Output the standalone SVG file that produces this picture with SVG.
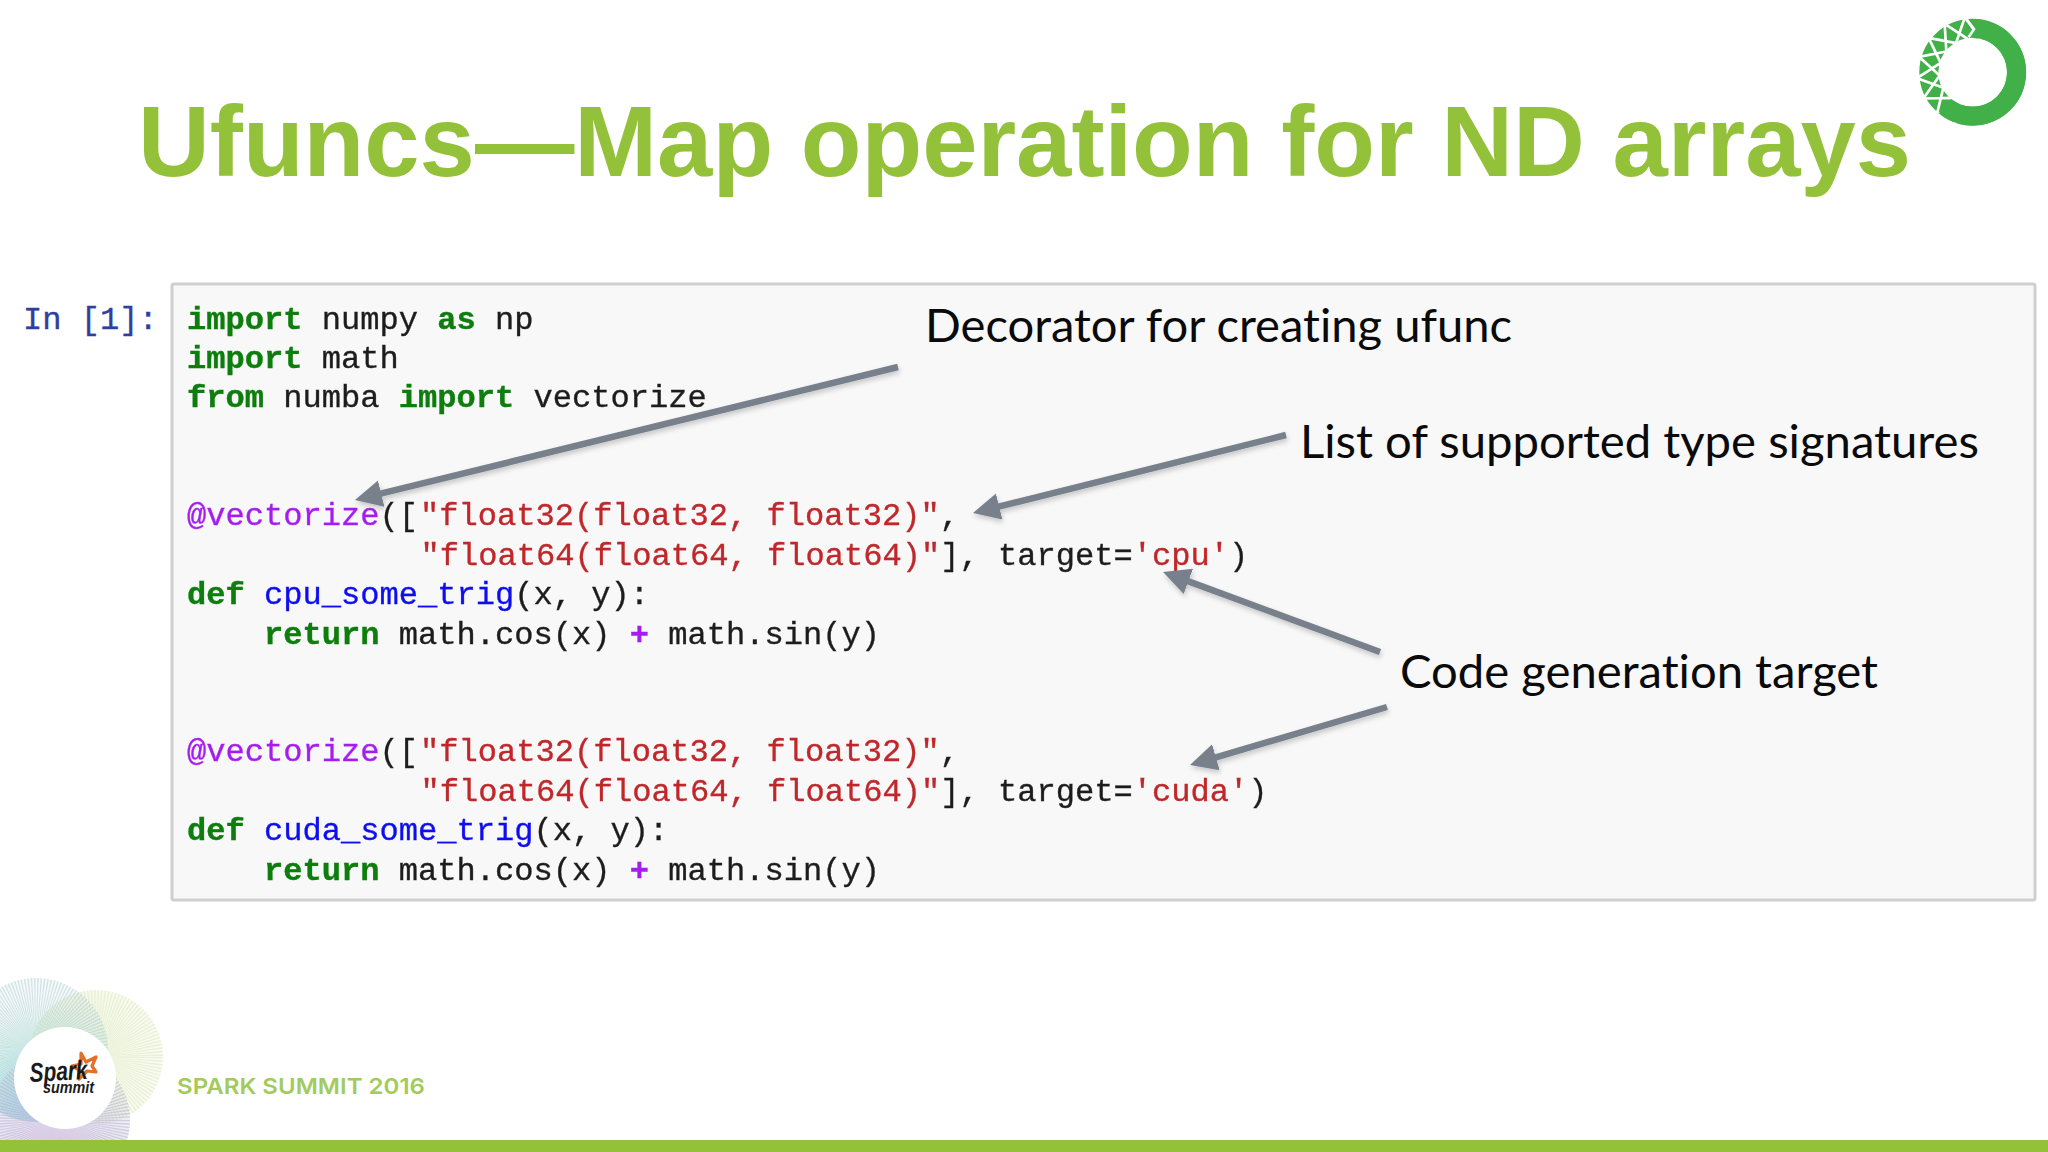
<svg xmlns="http://www.w3.org/2000/svg" width="2048" height="1152" viewBox="0 0 2048 1152">
<style>
.code{font-family:"Liberation Mono",monospace;font-size:32.1px;fill:#1e1e1e;white-space:pre;stroke:#1e1e1e;stroke-width:.35px}
.k{fill:#0a7d0a;stroke:#0a7d0a;font-weight:700}
.s{fill:#c0282a;stroke:#c0282a}
.d{fill:#a61ff0;stroke:#a61ff0}
.f{fill:#1010f0;stroke:#1010f0}
.o{fill:#a61ff0;stroke:#a61ff0;font-weight:700}
.note{font-family:Lato,"Open Sans",sans-serif;font-size:47px;fill:#0a0a0a;font-variant-ligatures:none}
.arrow{fill:none;stroke:#78818b;stroke-width:6.5}
.lat{stroke:#fff;stroke-width:8;fill:none}
</style>
<defs>
<marker id="head" markerUnits="userSpaceOnUse" markerWidth="30" markerHeight="30" refX="7" refY="15" orient="auto"><path d="M0 1.5L27 15L0 28.5Z" fill="#78818b"/></marker>
<filter id="sh" x="-10%" y="-20%" width="120%" height="150%"><feDropShadow dx="1" dy="3" stdDeviation="2.5" flood-color="#000" flood-opacity=".2"/></filter>
<filter id="soft"><feGaussianBlur stdDeviation=".45"/></filter>
<radialGradient id="gb" cx=".5" cy=".9" r=".8"><stop offset="0" stop-color="#6fd0e8" stop-opacity=".85"/><stop offset=".6" stop-color="#bfe8de" stop-opacity=".55"/><stop offset="1" stop-color="#d8e8e8" stop-opacity=".2"/></radialGradient>
<radialGradient id="gg" cx=".3" cy=".5" r=".8"><stop offset="0" stop-color="#d8ecb8" stop-opacity=".6"/><stop offset="1" stop-color="#eef2d8" stop-opacity=".2"/></radialGradient>
<radialGradient id="gp" cx=".45" cy=".9" r=".8"><stop offset="0" stop-color="#e2b0e4" stop-opacity=".85"/><stop offset=".7" stop-color="#c8c8e8" stop-opacity=".4"/><stop offset="1" stop-color="#d8d8e8" stop-opacity=".15"/></radialGradient>
<clipPath id="footclip"><rect x="0" y="950" width="300" height="190"/></clipPath>
</defs>
<rect width="2048" height="1152" fill="#fff"/>
<g id="title"><text x="138" y="176" font-family="'Liberation Sans',Arial,sans-serif" font-weight="700" font-size="100" fill="#93c13a" textLength="1773" lengthAdjust="spacingAndGlyphs">Ufuncs—Map operation for ND arrays</text></g>
<g id="anaconda-logo" transform="translate(1890,0.5) scale(.3333)" filter="url(#soft)">
<circle cx="248" cy="215" r="131.5" fill="none" stroke="#43b049" stroke-width="57"/>
<path class="lat" d="M140 344L160 262M140 344L217 310M100 294L184 292M100 294L149 225M81 233L160 262M81 233L152 187M87 169L149 225M87 169L169 153M116 112L152 187M116 112L198 128M164 70L169 153M164 70L234 116M225 49L198 128M196 375L184 292M225 49L272 118"/>
<path d="M248 84A131.5 131.5 0 1 1 165 317" fill="none" stroke="#43b049" stroke-width="57"/>
<path d="M228 55L252 86L236 110" fill="none" stroke="#fff" stroke-width="8"/>
</g>
<g id="prompt"><text class="code" x="23" y="329" style="fill:#2f3f9f;stroke:#2f3f9f">In [1]:</text></g>
<g id="code-cell">
<rect x="172" y="284" width="1863" height="616" fill="#f8f8f9" stroke="#cfcfcf" stroke-width="3" rx="2"/>
<g filter="url(#soft)">
<text class="code" x="187" y="329"><tspan class="k">import</tspan> numpy <tspan class="k">as</tspan> np</text>
<text class="code" x="187" y="368"><tspan class="k">import</tspan> math</text>
<text class="code" x="187" y="407"><tspan class="k">from</tspan> numba <tspan class="k">import</tspan> vectorize</text>
<text class="code" x="187" y="525"><tspan class="d">@vectorize</tspan>([<tspan class="s" dx="2">"float32(float32, float32)"</tspan>,</text>
<text class="code" x="189.5" y="565">            <tspan class="s">"float64(float64, float64)"</tspan>], target=<tspan class="s">'cpu'</tspan>)</text>
<text class="code" x="187" y="604"><tspan class="k">def</tspan> <tspan class="f">cpu_some_trig</tspan>(x, y):</text>
<text class="code" x="187" y="644">    <tspan class="k">return</tspan> math.cos(x) <tspan class="o">+</tspan> math.sin(y)</text>
<text class="code" x="187" y="761"><tspan class="d">@vectorize</tspan>([<tspan class="s" dx="2">"float32(float32, float32)"</tspan>,</text>
<text class="code" x="189.5" y="801">            <tspan class="s">"float64(float64, float64)"</tspan>], target=<tspan class="s">'cuda'</tspan>)</text>
<text class="code" x="187" y="840"><tspan class="k">def</tspan> <tspan class="f">cuda_some_trig</tspan>(x, y):</text>
<text class="code" x="187" y="880">    <tspan class="k">return</tspan> math.cos(x) <tspan class="o">+</tspan> math.sin(y)</text>
</g>
</g>
<g id="connectors" filter="url(#sh)">
<line class="arrow" x1="898" y1="367" x2="374.4" y2="495.2" marker-end="url(#head)"/>
<line class="arrow" x1="1286" y1="435" x2="992.4" y2="508.2" marker-end="url(#head)"/>
<line class="arrow" x1="1380" y1="652" x2="1181.8" y2="578.9" marker-end="url(#head)"/>
<line class="arrow" x1="1387" y1="707" x2="1209.2" y2="759.3" marker-end="url(#head)"/>
</g>
<g id="note-decorator"><text class="note" x="925" y="342" textLength="587" lengthAdjust="spacingAndGlyphs">Decorator for creating ufunc</text></g>
<g id="note-types"><text class="note" x="1300" y="458" textLength="679" lengthAdjust="spacingAndGlyphs">List of supported type signatures</text></g>
<g id="note-target"><text class="note" x="1400" y="688" textLength="478" lengthAdjust="spacingAndGlyphs">Code generation target</text></g>
<g id="spark-logo">
<g clip-path="url(#footclip)" filter="url(#soft)">
<circle cx="96" cy="1057" r="67" fill="url(#gg)"/>
<circle cx="96" cy="1057" r="33.5" fill="none" stroke="#dfe8c0" stroke-width="67" stroke-dasharray=".8 1" opacity=".55"/>
<circle cx="36" cy="1050" r="72" fill="url(#gb)"/>
<circle cx="36" cy="1050" r="36" fill="none" stroke="#a8c8cc" stroke-width="72" stroke-dasharray=".8 .9" opacity=".45"/>
<circle cx="60" cy="1120" r="70" fill="url(#gp)"/>
<circle cx="60" cy="1120" r="35" fill="none" stroke="#b8b0c8" stroke-width="70" stroke-dasharray=".8 .9" opacity=".5"/>
</g>
<circle cx="65" cy="1078" r="51" fill="#fff"/>
<path d="M81 1053L86 1062L96 1057L92 1066L96 1072L87 1071L79 1079L79 1070L72 1066L81 1064Z" fill="#fff" stroke="#e2702a" stroke-width="3.2" stroke-linejoin="round"/>
<text x="30" y="1082" font-family="'Liberation Sans',sans-serif" font-style="italic" font-weight="700" font-size="27" fill="#1a1a1a" textLength="58" lengthAdjust="spacingAndGlyphs" transform="rotate(-3 30 1082)">Spark</text>
<text x="43" y="1093" font-family="'Liberation Sans',sans-serif" font-style="italic" font-weight="700" font-size="16" fill="#1a1a1a" textLength="51" lengthAdjust="spacingAndGlyphs">summit</text>
</g>
<g id="footer-label"><text x="177" y="1094" font-family="Inter,'Open Sans',sans-serif" font-weight="600" font-size="22" fill="#a3cb5c" textLength="248" lengthAdjust="spacingAndGlyphs">SPARK SUMMIT 2016</text></g>
<rect id="footer-bar" x="0" y="1140" width="2048" height="12" fill="#93c13a"/>
</svg>
